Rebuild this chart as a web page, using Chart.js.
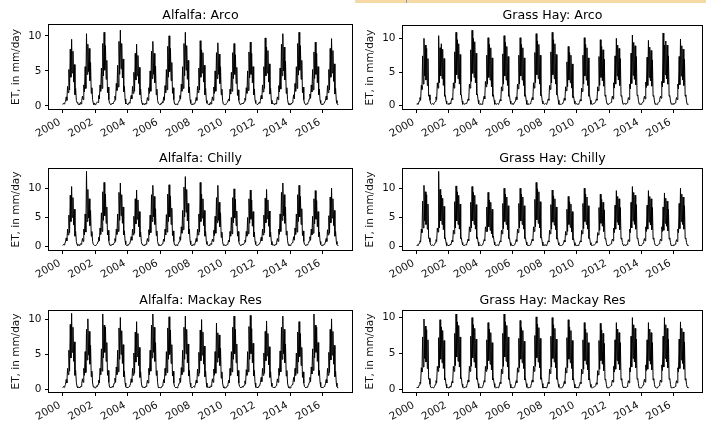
<!DOCTYPE html>
<html><head><meta charset="utf-8">
<script src="https://cdn.jsdelivr.net/npm/chart.js@4/dist/chart.umd.min.js"></script>
<style>
html,body{margin:0;padding:0;background:#fff;}
body{width:706px;height:421px;position:relative;overflow:hidden;font-family:"DejaVu Sans";}
.p{position:absolute;}
#strip{position:absolute;left:355px;top:0;width:351px;height:3px;background:#f6d9a3;}
#mark{position:absolute;left:406px;top:0;width:1px;height:3px;background:#9a9a9a;}
</style></head><body>
<div id="strip"></div><div id="mark"></div>
<div class="p" style="left:0;top:0;width:360px;height:140px"><canvas id="c0"></canvas></div>
<div class="p" style="left:353px;top:0;width:353px;height:140px"><canvas id="c1"></canvas></div>
<div class="p" style="left:0;top:140px;width:360px;height:140px"><canvas id="c2"></canvas></div>
<div class="p" style="left:353px;top:140px;width:353px;height:140px"><canvas id="c3"></canvas></div>
<div class="p" style="left:0;top:280px;width:360px;height:141px"><canvas id="c4"></canvas></div>
<div class="p" style="left:353px;top:280px;width:353px;height:141px"><canvas id="c5"></canvas></div>
<script>
// ---- DATA: ET (mm/day) read twice a month, 24 values per year, 2000-2016 ----
const startYear = 2000;
const valuesPerYear = 24;
const xTickYears = [2000, 2002, 2004, 2006, 2008, 2010, 2012, 2014, 2016];
const yTickValues = [0, 5, 10];
const panelTitles = ['Alfalfa: Arco', 'Grass Hay: Arco', 'Alfalfa: Chilly', 'Grass Hay: Chilly', 'Alfalfa: Mackay Res', 'Grass Hay: Mackay Res'];
const yAxisTitle = 'ET, in mm/day';

const alfalfaArco = [
0.2,0.4,0.3,0.5,0.6,1.3,0.8,2.8,1.9,5.2,2.3,8.1,4.1,9.5,4.7,7.8,3.4,5.9,1.6,2.5,0.8,0.5,0.4,0.2,
0.3,0.2,0.5,0.3,0.8,1.4,0.9,3.0,2.0,5.6,2.5,10.3,4.5,8.8,4.9,8.2,3.6,6.2,1.8,2.6,0.9,0.4,0.2,0.4,
0.2,0.3,0.4,0.6,0.5,1.5,1.0,3.0,2.1,5.4,2.5,8.9,4.3,10.5,5.1,8.6,3.8,6.5,1.9,2.7,0.9,0.4,0.3,0.2,
0.3,0.4,0.3,0.5,0.7,1.4,0.9,3.2,2.2,5.8,2.7,9.2,4.5,10.8,5.3,8.9,4.0,6.7,2.0,2.8,1.0,0.3,0.4,0.3,
0.2,0.3,0.5,0.4,0.9,1.5,1.0,2.8,1.8,4.8,2.1,7.5,3.7,8.8,4.3,7.2,3.2,5.5,1.6,2.4,0.9,0.4,0.2,0.3,
0.3,0.2,0.4,0.3,0.6,1.2,0.8,2.6,1.8,5.0,2.1,7.8,3.9,9.2,4.5,7.5,3.3,5.7,1.6,2.4,0.8,0.4,0.4,0.2,
0.2,0.4,0.3,0.6,0.5,1.3,0.8,2.9,1.9,5.2,2.3,8.5,4.1,10.0,4.9,8.2,3.6,6.2,1.8,2.6,0.9,0.3,0.3,0.2,
0.3,0.2,0.4,0.5,0.8,1.5,1.0,3.1,2.1,5.6,2.5,8.9,4.3,10.5,5.1,8.6,3.8,6.5,1.9,2.7,0.9,0.4,0.2,0.3,
0.2,0.3,0.3,0.4,0.6,1.2,0.8,2.8,1.9,5.4,2.3,9.3,4.1,8.0,4.7,7.6,3.4,5.8,1.6,2.5,0.8,0.4,0.3,0.2,
0.3,0.2,0.5,0.3,0.7,1.3,0.8,2.7,1.8,5.0,2.1,7.6,3.9,9.0,4.5,7.4,3.2,5.6,1.6,2.4,0.8,0.3,0.3,0.2,
0.2,0.3,0.4,0.5,0.5,1.0,0.7,2.4,1.7,4.8,2.1,7.6,3.9,8.9,4.5,7.3,3.2,5.5,1.5,2.3,0.8,0.4,0.2,0.3,
0.3,0.4,0.3,0.4,0.6,1.1,0.8,2.6,1.8,5.0,2.2,7.7,4.0,9.1,4.5,7.5,3.3,5.6,1.6,2.4,0.8,0.4,0.3,0.2,
0.2,0.3,0.5,0.4,0.8,1.5,1.0,3.0,2.0,5.6,2.5,9.7,4.3,8.4,4.7,7.9,3.4,6.0,1.7,2.5,0.8,0.3,0.4,0.3,
0.3,0.2,0.4,0.3,0.7,1.3,0.9,2.9,2.0,5.4,2.4,8.8,4.3,10.3,5.0,8.4,3.7,6.4,1.8,2.6,0.9,0.4,0.2,0.2,
0.2,0.4,0.3,0.5,0.9,1.6,1.0,3.2,2.1,5.6,2.5,8.9,4.4,10.5,5.1,8.6,3.8,6.5,1.9,2.7,0.9,0.4,0.3,0.2,
0.3,0.3,0.5,0.6,1.0,1.7,1.1,3.0,2.0,5.2,2.3,7.7,3.9,9.1,4.5,7.5,3.3,5.6,1.6,2.4,0.8,0.4,0.2,0.3,
0.2,0.3,0.4,0.4,0.8,1.4,0.9,2.9,1.9,5.2,2.3,8.2,4.1,9.6,4.7,7.9,3.5,6.0,1.7,2.5,0.8,0.4,0.2,0.2
];
const grassHayArco = [
0.2,0.3,0.2,0.4,0.7,1.2,0.8,3.0,2.4,7.4,3.2,10.0,4.4,9.0,3.8,8.5,3.0,7.0,1.4,1.6,0.8,0.3,0.2,0.2,
0.3,0.2,0.3,0.5,0.6,1.3,0.9,3.4,2.6,10.4,3.4,8.6,4.4,9.2,4.0,8.4,3.0,7.0,1.4,1.5,0.7,0.3,0.2,0.3,
0.2,0.2,0.4,0.3,0.8,1.1,0.9,3.4,2.6,8.0,3.4,10.9,4.6,9.8,4.0,9.2,3.2,7.6,1.6,1.6,0.7,0.2,0.3,0.2,
0.2,0.3,0.3,0.4,0.6,1.0,0.8,3.2,2.6,8.3,3.6,11.2,4.8,10.0,4.2,9.5,3.4,7.8,1.6,1.7,0.8,0.3,0.2,0.2,
0.3,0.2,0.2,0.5,0.9,1.4,1.0,3.6,2.8,7.5,3.2,10.1,4.2,9.1,3.8,8.6,2.8,7.1,1.4,1.6,0.8,0.2,0.3,0.2,
0.2,0.3,0.2,0.3,0.5,0.9,0.7,2.8,2.2,7.7,3.2,10.4,4.4,9.4,3.8,8.8,3.0,7.3,1.4,1.5,0.7,0.3,0.2,0.3,
0.2,0.2,0.4,0.4,0.7,1.3,0.9,3.2,2.5,7.5,3.2,10.1,4.4,9.1,3.8,8.6,3.0,7.1,1.4,1.6,0.8,0.2,0.2,0.2,
0.3,0.2,0.3,0.5,0.8,1.2,0.9,3.4,2.6,7.9,3.4,10.7,4.6,9.6,4.0,9.1,3.2,7.5,1.5,1.6,0.7,0.3,0.3,0.2,
0.2,0.3,0.2,0.3,0.6,1.0,0.8,3.0,2.4,8.0,3.4,10.9,4.6,9.8,4.0,9.2,3.2,7.6,1.6,1.6,0.8,0.2,0.2,0.2,
0.2,0.2,0.3,0.4,0.6,1.1,0.8,2.8,2.2,6.5,2.8,8.8,3.8,7.9,3.4,7.5,2.6,6.2,1.2,1.4,0.7,0.3,0.2,0.3,
0.3,0.2,0.2,0.4,0.5,0.9,0.7,2.6,2.1,7.5,3.2,10.1,4.4,9.1,3.8,8.6,3.0,7.1,1.4,1.5,0.8,0.2,0.3,0.2,
0.2,0.3,0.3,0.3,0.6,1.0,0.8,2.8,2.2,7.3,3.0,9.8,4.2,8.8,3.7,8.3,2.9,6.9,1.4,1.6,0.7,0.3,0.2,0.2,
0.2,0.2,0.4,0.5,0.8,1.4,1.0,3.4,2.6,7.4,3.2,10.0,4.4,9.0,3.8,8.5,3.0,7.0,1.4,1.5,0.7,0.2,0.2,0.3,
0.3,0.2,0.3,0.4,0.6,1.2,0.9,3.2,2.5,7.8,3.3,10.5,4.5,9.4,3.9,8.9,3.1,7.3,1.5,1.6,0.8,0.3,0.2,0.2,
0.2,0.3,0.4,0.6,0.9,1.4,1.0,3.5,2.7,7.2,3.0,9.7,4.2,8.7,3.7,8.2,2.9,6.8,1.4,1.5,0.7,0.2,0.3,0.2,
0.2,0.3,0.5,0.6,1.0,1.4,1.1,3.6,2.8,10.8,3.4,9.0,4.6,9.6,4.0,9.0,3.2,7.4,1.4,1.5,0.7,0.3,0.2,0.2,
0.3,0.2,0.3,0.4,0.7,1.2,0.9,3.2,2.5,7.3,3.1,9.9,4.4,8.9,3.8,8.4,3.0,6.9,1.4,1.6,0.7,0.2,0.2,0.2
];
const alfalfaChilly = [
0.2,0.4,0.3,0.6,0.8,1.5,1.0,3.0,2.0,5.4,2.4,8.8,4.3,10.3,5.0,8.4,3.7,6.4,1.8,2.6,0.9,0.4,0.2,0.3,
0.3,0.2,0.5,0.4,0.7,1.4,0.9,3.0,2.0,5.6,2.5,12.9,4.3,9.8,4.9,8.2,3.6,6.2,1.8,2.6,0.9,0.4,0.4,0.2,
0.2,0.3,0.4,0.5,0.9,1.6,1.0,3.2,2.1,5.8,2.6,9.4,4.5,11.0,5.3,9.0,4.0,6.8,2.0,2.8,1.0,0.3,0.3,0.2,
0.3,0.4,0.3,0.5,0.7,1.4,0.9,3.0,2.1,5.6,2.6,9.3,4.5,10.9,5.3,8.9,4.0,6.8,2.0,2.7,1.0,0.4,0.2,0.3,
0.2,0.3,0.5,0.6,1.0,1.7,1.1,3.0,2.0,5.2,2.3,8.2,3.9,9.7,4.7,8.0,3.4,6.0,1.7,2.5,0.9,0.4,0.3,0.2,
0.3,0.2,0.4,0.4,0.8,1.4,0.9,2.9,2.0,5.4,2.4,8.9,4.3,10.5,5.1,8.6,3.8,6.5,1.9,2.7,0.9,0.4,0.2,0.2,
0.2,0.3,0.3,0.5,0.7,1.3,0.9,3.0,2.0,5.5,2.5,9.0,4.3,10.6,5.1,8.7,3.8,6.6,1.9,2.7,0.9,0.3,0.3,0.2,
0.3,0.2,0.4,0.6,0.9,1.7,1.1,3.4,2.3,6.2,2.9,10.2,5.1,12.0,5.9,9.8,4.4,7.4,2.2,3.0,1.0,0.4,0.2,0.3,
0.2,0.4,0.3,0.5,0.8,1.4,0.9,3.0,2.0,5.6,2.5,11.0,4.3,9.0,4.9,8.2,3.6,6.2,1.8,2.6,0.9,0.4,0.3,0.2,
0.3,0.2,0.5,0.4,0.7,1.3,0.9,2.8,1.9,5.2,2.3,8.4,4.1,10.5,4.5,7.6,3.4,5.8,1.6,2.5,0.9,0.3,0.2,0.3,
0.2,0.3,0.3,0.4,0.6,1.1,0.8,2.6,1.8,5.0,2.2,8.4,4.1,9.9,4.9,8.1,3.6,6.1,1.8,2.6,0.9,0.4,0.3,0.2,
0.3,0.4,0.3,0.5,0.6,1.1,0.8,2.6,1.8,5.0,2.2,8.2,4.0,9.7,4.7,8.0,3.5,6.0,1.7,2.5,0.9,0.4,0.2,0.2,
0.2,0.3,0.5,0.6,0.9,1.6,1.0,3.0,2.0,5.4,2.4,8.3,4.1,9.8,4.8,8.0,3.5,6.1,1.7,2.5,0.9,0.3,0.3,0.3,
0.3,0.2,0.4,0.4,0.8,1.4,0.9,3.0,2.1,5.6,2.6,9.3,4.5,10.9,5.3,8.9,4.0,6.8,2.0,2.7,1.0,0.4,0.2,0.2,
0.2,0.4,0.5,0.7,1.0,1.7,1.1,3.2,2.1,5.6,2.5,8.9,4.3,10.5,5.1,8.6,3.8,6.5,1.9,2.7,0.9,0.4,0.3,0.2,
0.3,0.3,0.5,0.6,1.0,1.7,1.1,3.0,2.0,5.2,2.3,8.2,3.9,9.6,4.7,7.9,3.4,6.0,1.7,2.5,0.9,0.4,0.2,0.3,
0.2,0.3,0.4,0.5,0.8,1.4,0.9,2.9,2.0,5.3,2.3,8.5,4.1,10.0,4.9,8.2,3.6,6.2,1.8,2.6,0.9,0.4,0.2,0.2
];
const grassHayChilly = [
0.2,0.3,0.2,0.4,0.6,1.0,0.8,3.0,2.4,7.8,3.2,10.5,4.4,9.4,3.8,8.9,3.0,7.3,1.4,1.5,0.8,0.3,0.2,0.2,
0.3,0.2,0.3,0.4,0.7,1.2,0.9,3.2,2.5,12.9,3.2,9.8,4.4,8.8,3.8,8.3,2.9,6.9,1.4,1.5,0.7,0.2,0.3,0.2,
0.2,0.2,0.4,0.3,0.6,1.1,0.8,2.8,2.2,7.7,3.2,10.4,4.4,9.4,3.8,8.8,3.0,7.3,1.4,1.5,0.7,0.3,0.2,0.2,
0.2,0.3,0.3,0.5,0.8,1.3,1.0,3.4,2.6,7.6,3.2,10.3,4.4,9.3,3.8,8.8,3.0,7.2,1.4,1.6,0.8,0.2,0.2,0.3,
0.3,0.2,0.3,0.4,0.7,1.2,1.0,3.4,2.6,6.8,2.6,9.3,3.4,8.0,2.8,7.6,2.2,6.4,1.6,1.8,0.8,0.3,0.2,0.2,
0.2,0.3,0.2,0.3,0.6,1.0,0.8,2.8,2.2,7.4,3.1,10.0,4.3,9.0,3.8,8.5,2.9,7.0,1.4,1.5,0.7,0.2,0.3,0.2,
0.2,0.2,0.3,0.4,0.7,1.2,0.9,3.0,2.4,7.4,3.2,10.0,4.4,9.0,3.8,8.5,3.0,7.0,1.4,1.5,0.8,0.3,0.2,0.2,
0.3,0.2,0.3,0.5,0.8,1.3,1.0,3.4,2.6,8.1,3.4,11.0,4.6,9.9,4.0,9.4,3.2,7.7,1.5,1.6,0.8,0.2,0.2,0.3,
0.2,0.3,0.2,0.3,0.6,1.0,0.8,2.8,2.2,7.2,3.0,9.7,4.2,8.7,3.7,8.2,2.9,6.8,1.3,1.5,0.7,0.3,0.2,0.2,
0.2,0.2,0.3,0.4,0.6,1.1,0.8,2.6,2.0,6.4,2.6,8.6,3.8,7.7,3.3,7.3,2.5,6.0,1.2,1.4,0.7,0.2,0.3,0.2,
0.3,0.2,0.2,0.4,0.6,1.0,0.8,2.8,2.2,7.4,3.1,10.0,4.3,9.0,3.8,8.5,3.0,7.0,1.4,1.5,0.7,0.3,0.2,0.2,
0.2,0.3,0.3,0.3,0.5,0.9,0.7,2.4,2.0,6.7,2.8,9.0,4.0,8.1,3.5,7.6,2.6,6.3,1.3,1.4,0.7,0.2,0.2,0.2,
0.2,0.2,0.4,0.5,0.8,1.3,1.0,3.2,2.4,7.1,3.0,9.6,4.2,8.6,3.7,8.2,2.9,6.7,1.3,1.5,0.7,0.3,0.2,0.3,
0.3,0.2,0.3,0.4,0.7,1.2,0.9,3.0,2.4,7.6,3.2,10.3,4.4,9.3,3.8,8.8,3.0,7.2,1.4,1.5,0.8,0.2,0.2,0.2,
0.2,0.3,0.4,0.6,0.9,1.4,1.0,3.4,2.6,7.1,3.0,9.6,4.2,8.6,3.7,8.2,2.9,6.7,1.3,1.5,0.7,0.3,0.3,0.2,
0.2,0.3,0.4,0.5,0.9,1.3,1.0,3.4,2.6,6.8,2.8,9.2,4.0,8.3,3.5,7.8,2.7,6.4,1.3,1.5,0.7,0.2,0.2,0.2,
0.3,0.2,0.3,0.4,0.7,1.2,0.9,3.0,2.4,7.4,3.1,10.0,4.3,9.0,3.8,8.5,3.0,7.0,1.4,1.5,0.7,0.3,0.2,0.2
];
const alfalfaMackay = [
0.2,0.4,0.3,0.5,0.7,1.4,0.9,3.0,2.1,5.6,2.6,9.3,4.5,10.9,5.3,8.9,4.0,6.8,2.0,2.7,1.0,0.4,0.2,0.3,
0.3,0.2,0.4,0.4,0.8,1.5,1.0,3.0,2.0,5.4,2.4,8.6,4.2,10.1,4.9,8.3,3.6,6.3,1.8,2.6,0.9,0.4,0.3,0.2,
0.2,0.3,0.5,0.4,0.7,1.3,0.9,3.0,2.1,5.8,2.6,10.8,4.5,9.2,5.3,8.9,4.0,6.7,2.0,2.7,1.0,0.3,0.3,0.2,
0.3,0.4,0.3,0.6,0.9,1.6,1.0,3.2,2.1,5.6,2.5,8.8,4.3,10.3,5.0,8.4,3.7,6.4,1.8,2.6,0.9,0.4,0.2,0.3,
0.2,0.3,0.4,0.5,0.8,1.5,1.0,3.0,2.0,5.2,2.3,8.2,3.9,9.7,4.7,8.0,3.4,6.0,1.7,2.5,0.9,0.4,0.3,0.2,
0.3,0.2,0.4,0.4,0.7,1.3,0.9,3.0,2.1,5.6,2.6,9.2,4.5,10.8,5.3,8.9,4.0,6.7,2.0,2.7,1.0,0.3,0.2,0.3,
0.2,0.3,0.3,0.5,0.8,1.4,0.9,3.0,2.0,5.4,2.4,8.8,4.3,10.4,5.0,8.5,3.7,6.4,1.9,2.6,0.9,0.4,0.3,0.2,
0.3,0.2,0.4,0.6,0.9,1.6,1.0,3.1,2.1,5.6,2.5,8.9,4.3,10.5,5.1,8.6,3.8,6.5,1.9,2.7,0.9,0.4,0.2,0.2,
0.2,0.4,0.3,0.5,0.7,1.3,0.9,2.9,1.9,5.3,2.3,8.5,4.1,10.0,4.9,8.2,3.6,6.2,1.8,2.6,0.9,0.3,0.3,0.3,
0.3,0.2,0.5,0.4,0.8,1.5,1.0,2.9,2.0,5.4,2.3,9.5,3.9,8.1,4.5,7.8,3.4,5.9,1.6,2.5,0.9,0.4,0.2,0.2,
0.2,0.3,0.3,0.5,0.7,1.3,0.9,3.0,2.0,5.4,2.5,8.9,4.3,10.5,5.1,8.6,3.8,6.5,1.9,2.7,0.9,0.4,0.3,0.2,
0.3,0.4,0.3,0.4,0.6,1.2,0.8,2.8,2.0,5.4,2.5,9.0,4.3,10.6,5.1,8.7,3.8,6.6,1.9,2.7,0.9,0.3,0.2,0.3,
0.2,0.3,0.5,0.6,1.0,1.7,1.1,3.0,2.0,5.2,2.3,8.3,4.1,9.8,4.8,8.0,3.5,6.1,1.7,2.5,0.9,0.4,0.3,0.2,
0.3,0.2,0.4,0.5,0.8,1.5,1.0,3.0,2.0,5.5,2.5,8.9,4.3,10.5,5.1,8.6,3.8,6.5,1.9,2.7,0.9,0.4,0.2,0.2,
0.2,0.4,0.5,0.7,1.0,1.7,1.1,3.0,2.0,5.2,2.3,8.2,3.9,9.7,4.7,8.0,3.4,6.0,1.7,2.5,0.9,0.4,0.3,0.2,
0.3,0.3,0.5,0.6,1.0,1.7,1.1,3.2,2.2,5.8,2.7,10.8,4.5,9.2,5.3,8.9,4.0,6.7,2.0,2.7,1.0,0.4,0.2,0.3,
0.2,0.3,0.4,0.5,0.8,1.4,0.9,3.0,2.0,5.3,2.4,8.6,4.2,10.1,4.9,8.3,3.6,6.3,1.8,2.6,0.9,0.4,0.2,0.2
];
const grassHayMackay = [
0.2,0.3,0.2,0.4,0.6,1.0,0.8,3.0,2.4,7.3,3.1,9.8,4.3,8.8,3.8,8.3,2.9,6.9,1.4,1.5,0.7,0.3,0.2,0.2,
0.3,0.2,0.3,0.4,0.7,1.2,0.9,3.2,2.5,7.2,3.0,9.7,4.2,8.7,3.7,8.2,2.9,6.8,1.3,1.5,0.7,0.2,0.3,0.2,
0.2,0.2,0.4,0.3,0.6,1.1,0.9,3.2,2.5,7.8,3.3,10.5,4.5,9.4,3.9,8.9,3.1,7.3,1.5,1.6,0.7,0.3,0.2,0.2,
0.2,0.3,0.3,0.5,0.8,1.3,1.0,3.2,2.5,7.4,3.2,10.0,4.4,9.0,3.8,8.5,3.0,7.0,1.4,1.5,0.8,0.2,0.2,0.3,
0.3,0.2,0.3,0.4,0.7,1.2,1.0,3.2,2.5,6.9,2.8,9.3,4.0,8.4,3.5,7.9,2.7,6.5,1.3,1.5,0.8,0.3,0.2,0.2,
0.2,0.3,0.2,0.3,0.6,1.0,0.8,2.8,2.2,7.8,3.2,10.5,4.5,9.4,3.9,8.9,3.1,7.3,1.4,1.5,0.7,0.2,0.3,0.2,
0.2,0.2,0.3,0.4,0.7,1.2,0.9,3.0,2.4,7.1,3.0,9.6,4.2,8.6,3.7,8.2,2.9,6.7,1.3,1.5,0.8,0.3,0.2,0.2,
0.3,0.2,0.3,0.5,0.8,1.3,1.0,3.2,2.5,7.5,3.2,10.1,4.4,9.1,3.8,8.6,3.0,7.1,1.4,1.6,0.8,0.2,0.2,0.3,
0.2,0.3,0.2,0.3,0.6,1.0,0.8,2.8,2.2,7.4,3.1,10.0,4.3,9.0,3.8,8.5,3.0,7.0,1.4,1.5,0.7,0.3,0.2,0.2,
0.2,0.2,0.3,0.4,0.6,1.1,0.8,3.0,2.3,7.2,3.0,9.7,4.2,8.7,3.7,8.2,2.9,6.8,1.3,1.5,0.7,0.2,0.3,0.2,
0.3,0.2,0.2,0.4,0.6,1.0,0.8,2.8,2.2,6.9,2.8,9.3,4.0,8.4,3.5,7.9,2.7,6.5,1.3,1.5,0.7,0.3,0.2,0.2,
0.2,0.3,0.3,0.3,0.5,0.9,0.7,2.6,2.0,6.8,2.8,9.2,4.0,8.3,3.5,7.8,2.6,6.4,1.3,1.4,0.7,0.2,0.2,0.2,
0.2,0.2,0.4,0.5,0.8,1.3,1.0,3.2,2.4,6.9,2.8,9.3,4.0,8.4,3.5,7.9,2.7,6.5,1.3,1.5,0.7,0.3,0.2,0.3,
0.3,0.2,0.3,0.4,0.7,1.2,0.9,3.0,2.4,7.4,3.1,10.0,4.3,9.0,3.8,8.5,3.0,7.0,1.4,1.5,0.8,0.2,0.2,0.2,
0.2,0.3,0.4,0.6,0.9,1.4,1.0,3.4,2.6,6.9,2.8,9.3,4.0,8.4,3.5,7.9,2.7,6.5,1.3,1.5,0.7,0.3,0.3,0.2,
0.2,0.3,0.4,0.5,0.9,1.3,1.0,3.4,2.6,7.4,3.1,10.0,4.3,9.0,3.8,8.5,3.0,7.0,1.4,1.5,0.7,0.2,0.2,0.2,
0.3,0.2,0.3,0.4,0.7,1.2,0.9,3.0,2.4,7.0,2.9,9.4,4.1,8.5,3.6,8.0,2.8,6.6,1.3,1.5,0.7,0.3,0.2,0.2
];
const seriesList = [alfalfaArco, grassHayArco, alfalfaChilly, grassHayChilly, alfalfaMackay, grassHayMackay];

// ---- LAYOUT (per-panel canvas geometry and axis limits) ----
const xLimits = [1999.15, 2017.8];
const yLimits = [[-0.43, 11.54], [-0.5, 11.84], [-0.57, 13.3], [-0.57, 13.3], [-0.39, 11.23], [-0.38, 10.92]];
const geo = [
  {w:360, h:140, l:49, r:352, t:25, b:109, ty:16.2},
  {w:353, h:140, l:50, r:349, t:26, b:109, ty:16.2},
  {w:360, h:140, l:49, r:352, t:29, b:110, ty:18.5},
  {w:353, h:140, l:50, r:349, t:29, b:110, ty:18.5},
  {w:360, h:141, l:49, r:352, t:31, b:112, ty:21},
  {w:353, h:141, l:50, r:349, t:31, b:112, ty:20.5}
];

const frameAndTitle = {
  id: 'frameAndTitle',
  afterDraw(chart, args, opts) {
    const {ctx, chartArea: a} = chart;
    ctx.save();
    ctx.strokeStyle = '#000';
    ctx.lineWidth = 1;
    ctx.strokeRect(a.left - 0.5, a.top - 0.5, a.right - a.left + 1, a.bottom - a.top + 1);
    ctx.fillStyle = '#000';
    ctx.font = '12.6px "DejaVu Sans"';
    ctx.textAlign = 'center';
    ctx.textBaseline = 'middle';
    ctx.fillText(opts.text, (a.left + a.right) / 2, opts.y);
    ctx.restore();
  }
};

const tickFont = {family: 'DejaVu Sans', size: 10.5};

seriesList.forEach((vals, k) => {
  const g = geo[k];
  const pts = vals.map((v, i) => ({x: startYear + i / valuesPerYear, y: v}));
  new Chart(document.getElementById('c' + k), {
    type: 'line',
    data: {datasets: [{data: pts, borderColor: '#000', borderWidth: 1, pointRadius: 0, tension: 0, fill: false}]},
    plugins: [frameAndTitle],
    options: {
      responsive: true, maintainAspectRatio: false, animation: false,
      layout: {padding: {top: g.t, right: g.w - g.r, bottom: 0, left: 0}},
      plugins: {
        legend: {display: false}, tooltip: {enabled: false}, title: {display: false},
        frameAndTitle: {text: panelTitles[k], y: g.ty}
      },
      scales: {
        x: {
          type: 'linear', min: xLimits[0], max: xLimits[1],
          afterBuildTicks: s => { s.ticks = xTickYears.map(v => ({value: v})); },
          afterFit: s => { s.height = g.h - g.b; },
          grid: {drawOnChartArea: false, drawTicks: true, tickLength: 4, color: '#000', lineWidth: 1},
          border: {display: false},
          ticks: {color: '#111', font: tickFont, minRotation: 30, maxRotation: 30, autoSkip: false, padding: 3, labelOffset: -3, callback: v => String(v)}
        },
        y: {
          min: yLimits[k][0], max: yLimits[k][1],
          afterBuildTicks: s => { s.ticks = yTickValues.map(v => ({value: v})); },
          afterFit: s => { s.width = g.l; },
          grid: {drawOnChartArea: false, drawTicks: true, tickLength: 4, color: '#000', lineWidth: 1},
          border: {display: false},
          ticks: {color: '#111', font: tickFont, padding: 3.5, callback: v => String(v)},
          title: {display: true, text: yAxisTitle, color: '#111', font: tickFont, padding: {top: g.l - 39, bottom: 0}}
        }
      }
    }
  });
});
</script>
</body></html>
